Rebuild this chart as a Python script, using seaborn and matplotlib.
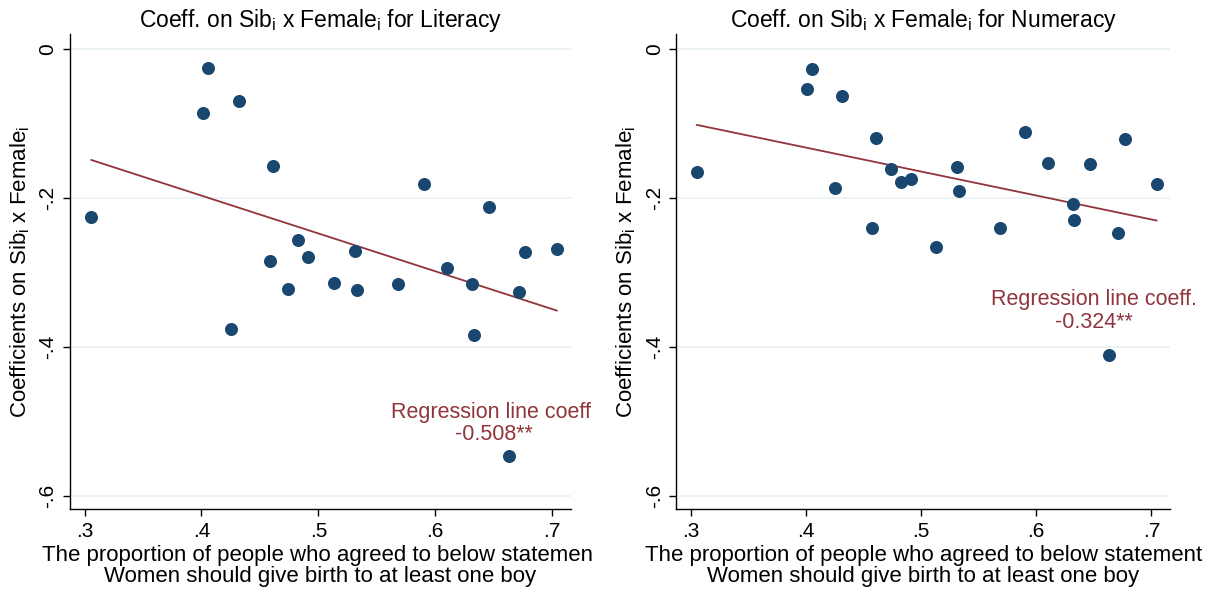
import numpy as np
import pandas as pd
import matplotlib
matplotlib.use("Agg")
import matplotlib.pyplot as plt
import seaborn as sns
from matplotlib.transforms import Bbox

# ---- data ----
lit_x = [0.3056, 0.4057, 0.4017, 0.4320, 0.4613, 0.5904, 0.6464, 0.4830,
         0.4583, 0.4909, 0.5311, 0.6773, 0.7043, 0.6098, 0.4741, 0.5136,
         0.5331, 0.5686, 0.6312, 0.6714, 0.4254, 0.6330, 0.6631]
lit_y = [-0.226, -0.026, -0.086, -0.070, -0.158, -0.181, -0.213, -0.257,
         -0.285, -0.279, -0.271, -0.273, -0.269, -0.294, -0.322, -0.314,
         -0.324, -0.316, -0.316, -0.326, -0.376, -0.384, -0.546]

num_x = [0.3050, 0.4053, 0.4013, 0.4313, 0.4607, 0.4737, 0.4828, 0.4911,
         0.4253, 0.4577, 0.5131, 0.5309, 0.5326, 0.5683, 0.5903, 0.6098,
         0.6315, 0.6325, 0.6465, 0.6712, 0.6773, 0.7046, 0.6632]
num_y = [-0.166, -0.027, -0.054, -0.064, -0.120, -0.162, -0.179, -0.175,
         -0.187, -0.240, -0.266, -0.159, -0.191, -0.241, -0.112, -0.153,
         -0.209, -0.230, -0.155, -0.247, -0.121, -0.181, -0.411]

titles = ["Coeff. on Sib$_{i}$ x Female$_{i}$ for Literacy",
          "Coeff. on Sib$_{i}$ x Female$_{i}$ for Numeracy"]
ylabel = "Coefficients on Sib$_{i}$ x Female$_{i}$"
xlabel = "The proportion of people who agreed to below statement\nWomen should give birth to at least one boy"
coef_labels = ["-0.508**", "-0.324**"]
xticks = [0.3, 0.4, 0.5, 0.6, 0.7]
xticklabels = [".3", ".4", ".5", ".6", ".7"]
yticks = [0, -0.2, -0.4, -0.6]
yticklabels = ["0", "-.2", "-.4", "-.6"]

sns.set_theme(style="white")
plt.rcParams['font.family'] = ['Liberation Sans', 'DejaVu Sans']
plt.rcParams['mathtext.default'] = 'regular'
plt.rcParams['text.color'] = 'black'
plt.rcParams['axes.labelcolor'] = 'black'
plt.rcParams['xtick.color'] = 'black'
plt.rcParams['ytick.color'] = 'black'

DOT = "#1a476f"
LINE = "#90353b"
GRID = "#eaf2f3"

fig = plt.figure(figsize=(12.16, 5.97), dpi=100)
ax1 = fig.add_axes([0.0576, 0.1469, 0.412, 0.7965])
ax2 = fig.add_axes([0.5563, 0.1469, 0.406, 0.7965])

datasets = [(lit_x, lit_y), (num_x, num_y)]
ann_y = [(-0.4877, -0.518), (-0.337, -0.367)]

for i, (ax, (xs, ys)) in enumerate(zip([ax1, ax2], datasets)):
    df = pd.DataFrame({"x": xs, "y": ys})
    for yt in yticks:
        ax.axhline(yt, color=GRID, lw=1.2, zorder=0)
    sns.regplot(data=df, x="x", y="y", ax=ax, ci=None,
                scatter_kws=dict(s=88, color=DOT, linewidths=0, alpha=1, zorder=3),
                line_kws=dict(color=LINE, lw=1.3, zorder=2))
    ax.set_xlim(0.2875, 0.7163)
    ax.set_ylim(-0.618, 0.02)
    ax.set_xticks(xticks)
    ax.set_xticklabels(xticklabels, fontsize=15, color="black")
    ax.set_yticks(yticks)
    ax.set_yticklabels(yticklabels, fontsize=15, rotation=90, va="center", color="black")
    ax.tick_params(axis="both", direction="out", length=5, width=1, color="black",
                   bottom=True, left=True, pad=4)
    for s in ["top", "right"]:
        ax.spines[s].set_visible(False)
    for s in ["left", "bottom"]:
        ax.spines[s].set_color("black")
        ax.spines[s].set_linewidth(1)
    ax.set_title(titles[i], fontsize=16.5, pad=5, color="black")
    ax.set_ylabel(ylabel, fontsize=16, labelpad=5, color="black")
    ax.set_xlabel(xlabel, fontsize=16, labelpad=3, linespacing=1.0, color="black")
    t1 = ax.text(0.65, ann_y[i][0], "Regression line coeff.", color=LINE,
                 fontsize=15.5, ha="center", va="center")
    t2 = ax.text(0.65, ann_y[i][1], coef_labels[i], color=LINE,
                 fontsize=15.5, ha="center", va="center")
    if i == 0:
        clip = Bbox.from_extents(0, 0, 592, 597)
        for t in (t1, t2, ax.xaxis.label):
            t.set_clip_on(True)
            t.set_clip_box(clip)
    else:
        t1.set_clip_on(False)
        t2.set_clip_on(False)

fig.savefig("out.png", dpi=100, facecolor="white")
